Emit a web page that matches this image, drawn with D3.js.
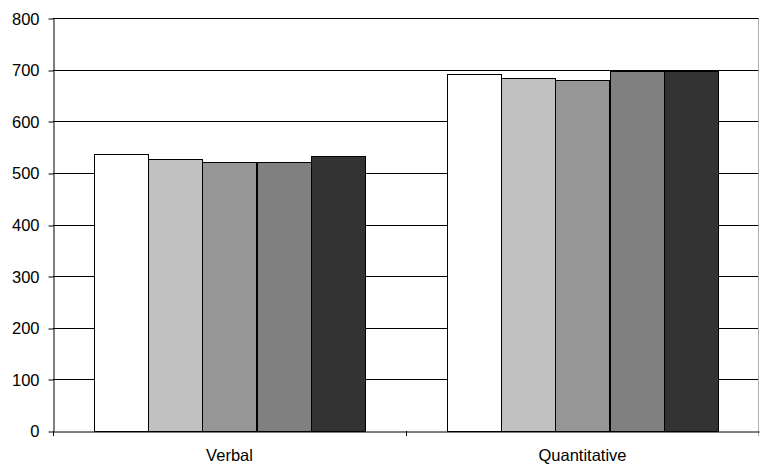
<!DOCTYPE html>
<html><head><meta charset="utf-8">
<script src="https://cdn.jsdelivr.net/npm/d3@7"></script>
<style>body{margin:0;background:#fff}svg{display:block}</style>
</head><body>
<svg id="c" width="760" height="464"></svg>
<script>
const categories = ["Verbal", "Quantitative"];
const seriesNames = ["S1", "S2", "S3", "S4", "S5"];
const s1 = [537, 692];
const s2 = [528, 684];
const s3 = [521, 681];
const s4 = [521, 697];
const s5 = [532, 697];
const yTicks = [0, 100, 200, 300, 400, 500, 600, 700, 800];
const colors = ["#ffffff", "#c0c0c0", "#969696", "#808080", "#333333"];
const series = [s1, s2, s3, s4, s5];

const FONT = "'Liberation Sans', Arial, Helvetica, sans-serif";
const FS = "16.5px";
const svg = d3.select("#c");
const L = 53, R = 759, T = 18.3, B = 430.7;
const y = d3.scaleLinear().domain([0, 800]).range([B, T]);
const x0 = d3.scaleBand().domain(categories).range([L, R]).paddingInner(0).paddingOuter(0);
const bw = x0.bandwidth() / (5 + 1.5);
const x1 = d3.scaleBand().domain(seriesNames).range([bw * 0.75, x0.bandwidth() - bw * 0.75]).padding(0);

// gridlines
svg.append("g").selectAll("line").data(yTicks.slice(1)).join("line")
  .attr("x1", L).attr("x2", R).attr("y1", d => Math.round(y(d)) + 0.5).attr("y2", d => Math.round(y(d)) + 0.5)
  .attr("stroke", "#000").attr("stroke-width", 1);
// right border
svg.append("line").attr("x1", 758.5).attr("x2", 758.5).attr("y1", Math.round(y(800)) + 0.5).attr("y2", Math.round(B) + 5)
  .attr("stroke", "#b0b0b0");

// bars
categories.forEach((c, ci) => {
  svg.append("g").selectAll("rect").data(series).join("rect")
    .attr("x", (s, si) => Math.round(x0(c) + x1(seriesNames[si])) + 0.5)
    .attr("width", Math.round(x1.bandwidth()))
    .attr("y", s => Math.round(y(s[ci])) + 0.5)
    .attr("height", s => Math.round(B) - Math.round(y(s[ci])))
    .attr("fill", (s, si) => colors[si])
    .attr("stroke", "#000").attr("stroke-width", 1);
});

// y axis
const ya = svg.append("g").attr("transform", `translate(${L + 0.5},0)`)
  .call(d3.axisLeft(y).tickValues(yTicks).tickSize(5).tickSizeOuter(0).tickFormat(d3.format("d")))
  .attr("font-family", FONT).attr("font-size", FS);
ya.select(".domain").attr("stroke", "#000");
ya.selectAll(".tick line").attr("stroke", "#000").attr("transform", d => `translate(0,${Math.round(y(d)) + 0.5 - y(d)})`);
ya.selectAll(".tick text").attr("x", -14).attr("dy", "0.36em").attr("fill", "#000");

// x axis
const xa = svg.append("g").attr("transform", `translate(0,${Math.round(B) + 0.5})`)
  .call(d3.axisBottom(x0).tickSize(0).tickSizeOuter(0))
  .attr("font-family", FONT).attr("font-size", FS);
xa.select(".domain").attr("stroke", "#000");
xa.selectAll(".tick text").attr("y", 29).attr("dy", "0").attr("fill", "#000");
svg.append("g").selectAll("line").data([L, (L + R) / 2]).join("line")
  .attr("x1", d => Math.round(d) + 0.5).attr("x2", d => Math.round(d) + 0.5)
  .attr("y1", Math.round(B)).attr("y2", Math.round(B) + 5).attr("stroke", "#000");
</script>
</body></html>
